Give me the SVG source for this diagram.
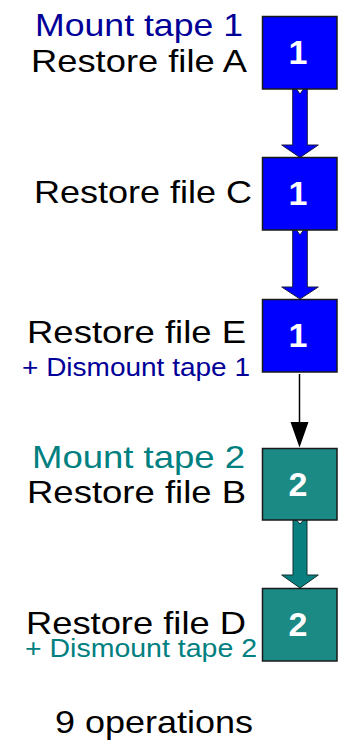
<svg xmlns="http://www.w3.org/2000/svg" width="343" height="744" viewBox="0 0 343 744">
<style>
text{font-family:"Liberation Sans",Arial,sans-serif}
.main{font-size:32px;fill:#000}
.t1{font-size:32px;fill:#000099}
.t2{font-size:32px;fill:#008080}
.d1{font-size:25px;fill:#000099}
.d2{font-size:25px;fill:#008080}
.num{font-size:34px;font-weight:bold;fill:#fff;text-anchor:middle}
.b1{fill:#0000ff;stroke:#1a1a1a;stroke-width:1.5}
.b2{fill:#1b8a85;stroke:#1a1a1a;stroke-width:1.5}
.a1{fill:#0000ff;stroke:#1a1a40;stroke-width:1}
.a2{fill:#0a7f7f;stroke:#103030;stroke-width:1}
</style>
<g id="connectors">
<path class="a1" d="M292.7,89 L296.5,89 L300,94 L303.5,89 L307.3,89 L307.3,145 L318.3,145 L300,157.5 L281.7,145 L292.7,145 Z"/>
<path class="a1" d="M292.7,230 L296.5,230 L300,235 L303.5,230 L307.3,230 L307.3,287 L318.3,287 L300,299 L281.7,287 L292.7,287 Z"/>
<line x1="299.5" y1="374" x2="299.5" y2="424" stroke="#000" stroke-width="1.5"/>
<polygon points="290.5,422 308.5,422 299.5,447.5" fill="#000"/>
<path class="a2" d="M293,520 L296.5,520 L300,524 L303.5,520 L307,520 L307,575 L318.3,575 L300,588 L281.7,575 L293,575 Z"/>
</g>
<g id="node1">
<rect class="b1" x="262.5" y="16.5" width="74.5" height="72.5"/>
<text class="num" x="298" y="63.5">1</text>
<text class="t1" x="35" y="36" textLength="208" lengthAdjust="spacingAndGlyphs">Mount tape 1</text>
<text class="main" x="31" y="72" textLength="216" lengthAdjust="spacingAndGlyphs">Restore file A</text>
</g>
<g id="node2">
<rect class="b1" x="262.5" y="157.5" width="74.5" height="72.5"/>
<text class="num" x="298" y="204.5">1</text>
<text class="main" x="34" y="202.5" textLength="218" lengthAdjust="spacingAndGlyphs">Restore file C</text>
</g>
<g id="node3">
<rect class="b1" x="262.5" y="299.5" width="74.5" height="72.5"/>
<text class="num" x="298" y="346.5">1</text>
<text class="main" x="27" y="342.5" textLength="219" lengthAdjust="spacingAndGlyphs">Restore file E</text>
<text class="d1" x="22" y="376" textLength="228" lengthAdjust="spacingAndGlyphs">+ Dismount tape 1</text>
</g>
<g id="node4">
<rect class="b2" x="262.5" y="448.5" width="74.5" height="71.5"/>
<text class="num" x="298" y="495.5">2</text>
<text class="t2" x="32" y="468" textLength="213" lengthAdjust="spacingAndGlyphs">Mount tape 2</text>
<text class="main" x="27" y="502.5" textLength="219" lengthAdjust="spacingAndGlyphs">Restore file B</text>
</g>
<g id="node5">
<rect class="b2" x="262.5" y="588.5" width="74.5" height="72.5"/>
<text class="num" x="298" y="635.5">2</text>
<text class="main" x="26" y="634" textLength="220" lengthAdjust="spacingAndGlyphs">Restore file D</text>
<text class="d2" x="25" y="656.5" textLength="232" lengthAdjust="spacingAndGlyphs">+ Dismount tape 2</text>
</g>
<g id="summary">
<text class="main" x="55" y="733" textLength="198" lengthAdjust="spacingAndGlyphs">9 operations</text>
</g>
</svg>
